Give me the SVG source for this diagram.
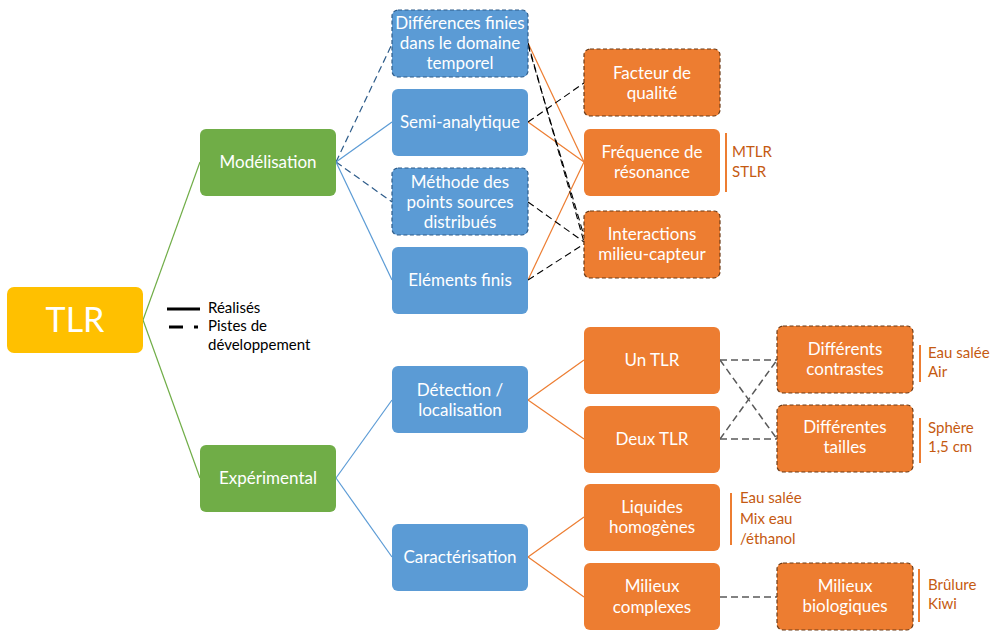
<svg xmlns="http://www.w3.org/2000/svg" width="992" height="631" viewBox="0 0 992 631">
<style>
text{font-family:Lato,"Liberation Sans",sans-serif}
.n{fill:#fff;font-size:17px;text-anchor:middle}
.b{fill:#5B9BD5}
.o{fill:#ED7D31}
.g{fill:#70AD47}
.bd{stroke:#2E5C8A;stroke-width:1.2;stroke-dasharray:4,2.5}
.od{stroke:#6B3A16;stroke-width:1.2;stroke-dasharray:4,2.5}
.lab{fill:#C55A11;font-size:15px}
.lg{fill:#000;font-size:15px}
.cg{stroke:#70AD47;stroke-width:1.2;fill:none}
.cb{stroke:#5B9BD5;stroke-width:1.2;fill:none}
.cbd{stroke:#2E5C8A;stroke-width:1.2;fill:none;stroke-dasharray:7,4}
.co{stroke:#ED7D31;stroke-width:1.2;fill:none}
.ck{stroke:#000;stroke-width:1.1;fill:none;stroke-dasharray:7,4}
.cgr{stroke:#595959;stroke-width:1.5;fill:none;stroke-dasharray:7,4}
.br{stroke:#ED7D31;stroke-width:2}
</style>
<g id="connectors">
<line class="cg" x1="143" y1="320" x2="200" y2="162"/>
<line class="cg" x1="143" y1="320" x2="200" y2="478"/>
<line class="cbd" x1="336" y1="162" x2="392" y2="44"/>
<line class="cb" x1="336" y1="162" x2="392" y2="122"/>
<line class="cbd" x1="336" y1="162" x2="392" y2="202"/>
<line class="cb" x1="336" y1="162" x2="392" y2="280"/>
<line class="co" x1="528" y1="43" x2="584" y2="162"/>
<line class="co" x1="528" y1="122" x2="584" y2="162"/>
<line class="co" x1="528" y1="280" x2="584" y2="162"/>
<line class="ck" x1="528" y1="43" x2="584" y2="242"/>
<path class="ck" d="M528,45 Q550,120 584,236"/>
<line class="ck" x1="528" y1="122" x2="584" y2="83"/>
<line class="ck" x1="528" y1="202" x2="584" y2="242"/>
<line class="ck" x1="528" y1="280" x2="584" y2="244"/>
<line class="cb" x1="336" y1="478" x2="392" y2="400"/>
<line class="cb" x1="336" y1="478" x2="392" y2="557"/>
<line class="co" x1="528" y1="400" x2="584" y2="360"/>
<line class="co" x1="528" y1="400" x2="584" y2="439"/>
<line class="co" x1="528" y1="557" x2="584" y2="517"/>
<line class="co" x1="528" y1="557" x2="584" y2="597"/>
<line class="cgr" x1="720" y1="360" x2="777" y2="360"/>
<line class="cgr" x1="720" y1="360" x2="777" y2="439"/>
<line class="cgr" x1="720" y1="439" x2="777" y2="439"/>
<line class="cgr" x1="720" y1="439" x2="777" y2="360"/>
<line class="cgr" x1="720" y1="597" x2="777" y2="597"/>
</g>
<g id="legend">
<line x1="167" y1="309" x2="200" y2="309" stroke="#000" stroke-width="3"/>
<line x1="169" y1="327" x2="183" y2="327" stroke="#000" stroke-width="3"/>
<line x1="194" y1="327" x2="198" y2="327" stroke="#000" stroke-width="3"/>
<text class="lg" x="208" y="313">Réalisés</text>
<text class="lg" x="208" y="331">Pistes de</text>
<text class="lg" x="208" y="350">développement</text>
</g>
<g id="tlr">
<rect x="7" y="287" width="136" height="66" rx="7" fill="#FFC000"/>
<text x="75" y="332" fill="#fff" font-size="34" text-anchor="middle">TLR</text>
</g>
<g id="modelisation">
<rect class="g" x="200" y="129" width="136" height="67" rx="6"/>
<text class="n" x="268" y="168">Modélisation</text>
</g>
<g id="experimental">
<rect class="g" x="200" y="445" width="136" height="67" rx="6"/>
<text class="n" x="268" y="484">Expérimental</text>
</g>
<g id="differences">
<rect class="b bd" x="392" y="10" width="136" height="67" rx="6"/>
<text class="n" x="460" y="29">Différences finies</text>
<text class="n" x="460" y="49">dans le domaine</text>
<text class="n" x="460" y="69">temporel</text>
</g>
<g id="semi">
<rect class="b" x="392" y="89" width="136" height="67" rx="6"/>
<text class="n" x="460" y="128">Semi-analytique</text>
</g>
<g id="methode">
<rect class="b bd" x="392" y="168" width="136" height="67" rx="6"/>
<text class="n" x="460" y="188">Méthode des</text>
<text class="n" x="460" y="208">points sources</text>
<text class="n" x="460" y="228">distribués</text>
</g>
<g id="elements">
<rect class="b" x="392" y="247" width="136" height="67" rx="6"/>
<text class="n" x="460" y="286">Eléments finis</text>
</g>
<g id="facteur">
<rect class="o od" x="584" y="49" width="136" height="67" rx="6"/>
<text class="n" x="652" y="79">Facteur de</text>
<text class="n" x="652" y="99">qualité</text>
</g>
<g id="frequence">
<rect class="o" x="584" y="129" width="136" height="67" rx="6"/>
<text class="n" x="652" y="158">Fréquence de</text>
<text class="n" x="652" y="178">résonance</text>
<line class="br" x1="726" y1="133" x2="726" y2="192"/>
<text class="lab" x="732" y="157">MTLR</text>
<text class="lab" x="732" y="177">STLR</text>
</g>
<g id="interactions">
<rect class="o od" x="584" y="211" width="136" height="67" rx="6"/>
<text class="n" x="652" y="240">Interactions</text>
<text class="n" x="652" y="260">milieu-capteur</text>
</g>
<g id="detection">
<rect class="b" x="392" y="366" width="136" height="67" rx="6"/>
<text class="n" x="460" y="396">Détection /</text>
<text class="n" x="460" y="416">localisation</text>
</g>
<g id="caracterisation">
<rect class="b" x="392" y="524" width="136" height="67" rx="6"/>
<text class="n" x="460" y="563">Caractérisation</text>
</g>
<g id="un-tlr">
<rect class="o" x="584" y="327" width="136" height="67" rx="6"/>
<text class="n" x="652" y="366">Un TLR</text>
</g>
<g id="deux-tlr">
<rect class="o" x="584" y="406" width="136" height="67" rx="6"/>
<text class="n" x="652" y="445">Deux TLR</text>
</g>
<g id="liquides">
<rect class="o" x="584" y="484" width="136" height="67" rx="6"/>
<text class="n" x="652" y="513">Liquides</text>
<text class="n" x="652" y="533">homogènes</text>
<line class="br" x1="731" y1="493" x2="731" y2="545"/>
<text class="lab" x="740" y="503">Eau salée</text>
<text class="lab" x="740" y="524">Mix eau</text>
<text class="lab" x="740" y="544">/éthanol</text>
</g>
<g id="milieux-complexes">
<rect class="o" x="584" y="563" width="136" height="67" rx="6"/>
<text class="n" x="652" y="592">Milieux</text>
<text class="n" x="652" y="613">complexes</text>
</g>
<g id="contrastes">
<rect class="o od" x="777" y="326" width="136" height="67" rx="6"/>
<text class="n" x="845" y="355">Différents</text>
<text class="n" x="845" y="375">contrastes</text>
<line class="br" x1="920" y1="345" x2="920" y2="382"/>
<text class="lab" x="928" y="358">Eau salée</text>
<text class="lab" x="928" y="377">Air</text>
</g>
<g id="tailles">
<rect class="o od" x="777" y="405" width="136" height="67" rx="6"/>
<text class="n" x="845" y="433">Différentes</text>
<text class="n" x="845" y="453">tailles</text>
<line class="br" x1="920" y1="418" x2="920" y2="463"/>
<text class="lab" x="928" y="433">Sphère</text>
<text class="lab" x="928" y="452">1,5 cm</text>
</g>
<g id="biologiques">
<rect class="o od" x="777" y="563" width="136" height="67" rx="6"/>
<text class="n" x="845" y="592">Milieux</text>
<text class="n" x="845" y="612">biologiques</text>
<line class="br" x1="919" y1="569" x2="919" y2="622"/>
<text class="lab" x="928" y="590">Brûlure</text>
<text class="lab" x="928" y="609">Kiwi</text>
</g>
</svg>
